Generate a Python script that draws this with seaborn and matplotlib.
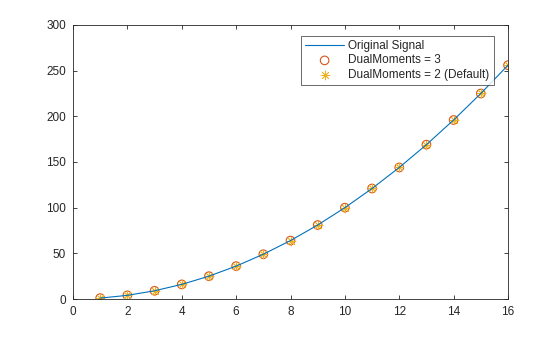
import matplotlib
matplotlib.use("Agg")
import matplotlib.pyplot as plt
import seaborn as sns
import pandas as pd

x_vals = [1, 2, 3, 4, 5, 6, 7, 8, 9, 10, 11, 12, 13, 14, 15, 16]
signal = [1, 4, 9, 16, 25, 36, 49, 64, 81, 100, 121, 144, 169, 196, 225, 256]
dual3 = [1, 4, 9, 16, 25, 36, 49, 64, 81, 100, 121, 144, 169, 196, 225, 256]
dual2 = [1, 4, 9, 16, 25, 36, 49, 64, 81, 100, 121, 144, 169, 196, 225, 256]
labels = ["Original Signal", "DualMoments = 3", "DualMoments = 2 (Default)"]
xticks = [0, 2, 4, 6, 8, 10, 12, 14, 16]
yticks = [0, 50, 100, 150, 200, 250, 300]

df = pd.DataFrame({"x": x_vals, "signal": signal, "d3": dual3, "d2": dual2})

sns.set_style("white")
plt.rcParams["font.family"] = ["Liberation Sans", "DejaVu Sans"]

fig = plt.figure(figsize=(5.6, 3.37), dpi=100)
ax = fig.add_axes([73/560, 1-299/337, (508-73)/560, (299-25)/337])

sns.lineplot(data=df, x="x", y="signal", ax=ax, color="#0072BD", linewidth=0.8, errorbar=None)
line_h = ax.lines[-1]
sns.scatterplot(data=df, x="x", y="d3", ax=ax, marker="o", s=38, facecolors="none",
                edgecolor="#D95319", linewidth=0.8)
circ_h = ax.collections[-1]
sns.scatterplot(data=df, x="x", y="d2", ax=ax, marker=(8, 2, 0), s=40,
                color="#EDB120", edgecolor="#EDB120", linewidth=0.6)
star_h = ax.collections[-1]

ax.set_xlim(0, 16)
ax.set_ylim(0, 300)
ax.set_xticks(xticks)
ax.set_yticks(yticks)
ax.set_xlabel("")
ax.set_ylabel("")
ax.tick_params(direction="in", length=3, width=0.6, colors="#262626", labelsize=8.5,
               top=True, right=True, bottom=True, left=True, pad=5)
ax.tick_params(labeltop=False, labelright=False)
for sp in ax.spines.values():
    sp.set_color("#262626")
    sp.set_linewidth(0.6)

leg = ax.legend([line_h, circ_h, star_h], labels, loc="upper left",
                bbox_to_anchor=((301-73)/435, 1-(36-25)/274),
                frameon=True, fontsize=8.5, fancybox=False, borderpad=0.35,
                labelspacing=0.2, handlelength=3.3, handletextpad=0.35, borderaxespad=0)
leg.get_frame().set_edgecolor("#262626")
leg.get_frame().set_linewidth(0.6)

fig.savefig("out.png", dpi=100)
